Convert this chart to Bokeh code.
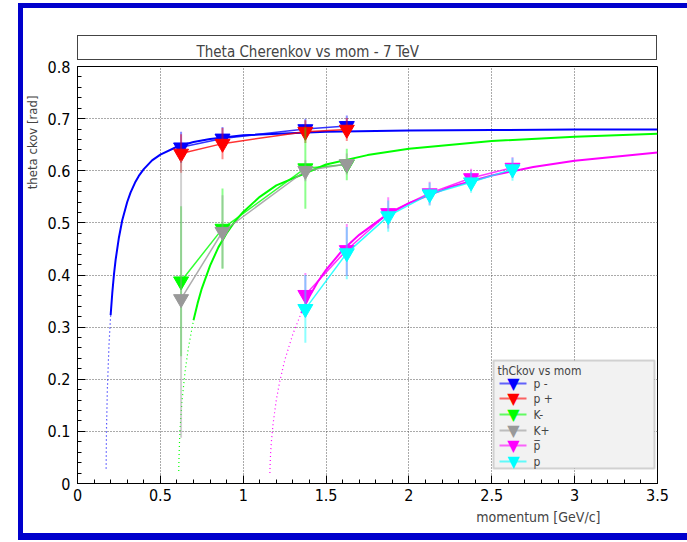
import numpy as np
from bokeh.plotting import figure
from bokeh.models import BoxAnnotation, Label, FixedTicker, Range1d, CustomJSTickFormatter, Title
from bokeh.embed import file_html
from bokeh.resources import INLINE

# ---------------- data ----------------
mom_pi = [0.625, 0.875, 1.375, 1.625]
theta_pim = [0.645, 0.662, 0.680, 0.686]
err_pim = [0.030, 0.022, 0.020, 0.020]
theta_pip = [0.633, 0.652, 0.675, 0.679]
err_pip = [0.037, 0.030, 0.022, 0.022]
theta_km = [0.388, 0.489, 0.605, 0.612]
err_km = [0.144, 0.077, 0.078, 0.030]
theta_kp = [0.354, 0.483, 0.600, 0.613]
err_kp = [0.266, 0.070, 0.020, 0.020]

mom_pr = [1.375, 1.625, 1.875, 2.125, 2.375, 2.625]
theta_pbar = [0.362, 0.448, 0.519, 0.557, 0.586, 0.606]
err_pbar = [0.042, 0.050, 0.030, 0.022, 0.018, 0.020]
theta_p = [0.335, 0.442, 0.513, 0.555, 0.578, 0.603]
err_p = [0.065, 0.050, 0.030, 0.022, 0.020, 0.022]

# expected-angle curves
curve_pi_mom = [0.1728, 0.175, 0.18, 0.19, 0.2, 0.21, 0.22, 0.23, 0.25, 0.27, 0.3, 0.32, 0.35, 0.37, 0.4,
                0.45, 0.5, 0.6, 0.7, 0.8, 1.0, 1.5, 2.0, 2.5, 3.0, 3.5]
curve_pi_theta = [0.029, 0.104, 0.179, 0.266, 0.323, 0.366, 0.401, 0.429, 0.472, 0.505, 0.540, 0.558, 0.579,
                  0.590, 0.603, 0.620, 0.631, 0.646, 0.655, 0.661, 0.668, 0.675, 0.677, 0.678, 0.679, 0.679]
curve_k_mom = [0.611, 0.612, 0.615, 0.62, 0.63, 0.65, 0.67, 0.7, 0.725, 0.75, 0.8, 0.85, 0.9, 0.95, 1.0,
               1.1, 1.2, 1.5, 1.75, 2.0, 2.5, 3.0, 3.5]
curve_k_theta = [0.024, 0.043, 0.076, 0.110, 0.156, 0.217, 0.262, 0.313, 0.346, 0.374, 0.418, 0.453, 0.480,
                 0.503, 0.521, 0.550, 0.572, 0.612, 0.630, 0.642, 0.657, 0.665, 0.671]
curve_pr_mom = [1.161, 1.162, 1.165, 1.17, 1.18, 1.2, 1.22, 1.25, 1.3, 1.35, 1.4, 1.45, 1.5, 1.6, 1.7, 1.85,
                2.0, 2.25, 2.5, 2.75, 3.0, 3.5]
curve_pr_theta = [0.020, 0.033, 0.056, 0.080, 0.114, 0.161, 0.195, 0.236, 0.287, 0.327, 0.359, 0.387, 0.410,
                  0.448, 0.477, 0.512, 0.538, 0.569, 0.591, 0.607, 0.619, 0.635]

x_ticks = [0, 0.5, 1, 1.5, 2, 2.5, 3, 3.5]
y_ticks = [0, 0.1, 0.2, 0.3, 0.4, 0.5, 0.6, 0.7, 0.8]

legend_title = "thCkov vs mom"
legend_labels = ["p -", "p +", "K-", "K+", "p\u0305", "p"]
colors = ["#0000ff", "#ff0000", "#00ff00", "#999999", "#ff00ff", "#00ffff"]

FONT = "'Liberation Sans Narrow', 'DejaVu Sans Condensed', Roboto, sans-serif"

# ---------------- figure ----------------
W, H = 687, 542
p = figure(width=W, height=H, output_backend="svg", toolbar_location=None, title=None,
           x_range=Range1d(0, 3.5), y_range=Range1d(0, 0.8),
           min_border_left=77, min_border_right=30, min_border_top=66, min_border_bottom=59)
p.background_fill_color = "white"
p.border_fill_alpha = 0
p.outline_line_color = "black"
p.outline_line_width = 1

# blue canvas frame and the title box, drawn behind the (transparent) border area
css = """
:host {
  background-color: #ffffff;
  background-image:
    linear-gradient(#ffffff, #ffffff),
    linear-gradient(#444444, #444444),
    linear-gradient(#ffffff, #ffffff),
    linear-gradient(#0000cc, #0000cc);
  background-position: 78px 36px, 77px 35px, 23px 8px, 18px 3px;
  background-size: 578px 23px, 580px 25px, 664px 525px, 669px 537px;
  background-repeat: no-repeat;
}
"""
p.stylesheets = [css]

x_minor = [round(i * 0.1, 2) for i in range(36)]
y_minor = [round(i * 0.02, 2) for i in range(41)]
p.xaxis.ticker = FixedTicker(ticks=x_ticks, minor_ticks=x_minor)
p.yaxis.ticker = FixedTicker(ticks=y_ticks, minor_ticks=y_minor)
fmt = "return tick.toString();"
p.xaxis.formatter = CustomJSTickFormatter(code=fmt)
p.yaxis.formatter = CustomJSTickFormatter(code=fmt)
for ax in (p.xaxis, p.yaxis):
    ax.major_tick_in = 8
    ax.major_tick_out = 0
    ax.minor_tick_in = 4
    ax.minor_tick_out = 0
    ax.axis_line_color = "black"
    ax.major_tick_line_color = "black"
    ax.minor_tick_line_color = "black"
    ax.major_label_text_font = FONT
    ax.major_label_text_font_size = "16px"
    ax.major_label_text_color = "black"
p.xaxis.major_label_standoff = 5
p.yaxis.major_label_standoff = 7

for g in (p.xgrid, p.ygrid):
    g.grid_line_color = "#555555"
    g.grid_line_dash = "1 2"
    g.grid_line_width = 1

# titles
p.add_layout(Title(text="Theta Cherenkov vs mom  -  7 TeV", align="left", offset=119, standoff=12,
                   text_font=FONT, text_font_size="15px", text_font_style="normal"), "above")
p.add_layout(Title(text="theta ckov [rad]", align="right", offset=29, standoff=9,
                   text_font=FONT, text_font_size="13px", text_font_style="normal"), "left")
p.add_layout(Title(text="momentum [GeV/c]", align="right", offset=57, standoff=6,
                   text_font=FONT, text_font_size="14px", text_font_style="normal"), "below")

# ---------------- curves ----------------
CUT = 0.30
for mom, th, col in [(curve_pi_mom, curve_pi_theta, colors[0]),
                     (curve_k_mom, curve_k_theta, colors[2]),
                     (curve_pr_mom, curve_pr_theta, colors[4])]:
    mom = np.array(mom); th = np.array(th)
    k = int(np.argmax(th >= CUT))
    p.line(mom[:k + 1], th[:k + 1], line_color=col, line_width=1.2, line_dash="1 3")
    p.line(mom[k:], th[k:], line_color=col, line_width=2)

# ---------------- graphs ----------------
series = [(mom_pi, theta_pim, err_pim), (mom_pi, theta_pip, err_pip),
          (mom_pi, theta_km, err_km), (mom_pi, theta_kp, err_kp),
          (mom_pr, theta_pbar, err_pbar), (mom_pr, theta_p, err_p)]
for (mom, th, er), col in zip(series, colors):
    mom = np.array(mom); th = np.array(th); er = np.array(er)
    p.segment(x0=mom, y0=th - er, x1=mom, y1=th + er, line_color=col, line_alpha=0.45, line_width=2)
    p.line(mom, th, line_color=col, line_width=1.5, line_alpha=0.8)
    p.scatter(mom, th, marker="inverted_triangle", size=15, fill_color=col, line_color=col)

# ---------------- legend (canvas units, inside the frame) ----------------
def cbox(l, r, t, b, **kw):
    return BoxAnnotation(left=l, right=r, top=t, bottom=b, left_units="canvas", right_units="canvas",
                         top_units="canvas", bottom_units="canvas", **kw)

p.add_layout(cbox(493, 654, 360, 468, fill_color="#f2f2f2", fill_alpha=1,
                  line_color="#777777", line_width=2))
p.add_layout(Label(x=497, y=370, x_units="canvas", y_units="canvas", text=legend_title,
                   text_font=FONT, text_font_size="12px", text_baseline="middle"))
row_y = [383, 398, 414, 430, 445, 461]
for lab, col, yy in zip(legend_labels, colors, row_y):
    p.add_layout(cbox(499, 526, yy - 1, yy + 1, fill_color=col, fill_alpha=0.6, line_alpha=0))
    p.add_layout(Label(x=513, y=yy, x_units="canvas", y_units="canvas", text="\u25bc",
                       text_font="DejaVu Sans", text_font_size="16px", text_color=col,
                       text_align="center", text_baseline="middle"))
    p.add_layout(Label(x=533, y=yy, x_units="canvas", y_units="canvas", text=lab,
                       text_font=FONT, text_font_size="12px", text_baseline="middle"))

open("out.html", "w").write(file_html(p, INLINE))
